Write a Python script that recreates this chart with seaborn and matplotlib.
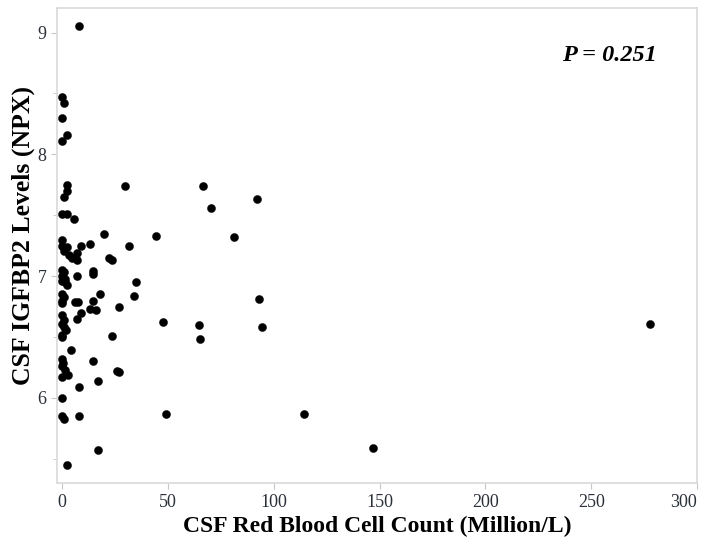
import matplotlib
matplotlib.use("Agg")
import matplotlib.pyplot as plt
import seaborn as sns
import pandas as pd
from matplotlib.ticker import MultipleLocator

rbc = [8.0, 0.1, 1.1, 0.1, 2.2, 0.1,
       2.2, 2.2, 1.1, 0.1, 2.2, 5.8, 29.8, 19.9, 44.6,
       0.1, 0.2, 1.5, 2.5, 0.8, 9.0, 13.0, 31.7,
       3.3, 4.6, 6.9, 6.9, 22.1, 23.7,
       0.1, 1.0, 0.1, 1.2, 0.1, 1.5, 2.5, 6.9, 14.7, 14.7, 34.8,
       0.1, 1.0, 0.1, 0.1, 17.9, 33.9, 6.1, 7.4, 14.7, 26.8,
       9.0, 13.2, 16.0, 6.9,
       0.1, 1.0, 0.1, 1.0, 2.0, 0.1, 0.1, 23.7, 47.7,
       4.1, 0.1, 0.5, 0.1, 1.2, 2.8, 0.1, 14.7, 26.2, 27.0,
       17.1, 8.1, 0.1, 0.1, 1.1, 8.1, 49.3, 17.1, 2.2,
       66.5, 70.5, 92.3, 81.4, 93.2, 64.5, 65.4, 94.3, 114.1, 146.8, 277.9]
igfbp2 = [9.05, 8.47, 8.42, 8.30, 8.16, 8.11,
          7.75, 7.70, 7.65, 7.51, 7.51, 7.47, 7.74, 7.35, 7.33,
          7.30, 7.25, 7.23, 7.24, 7.21, 7.25, 7.26, 7.25,
          7.17, 7.15, 7.19, 7.13, 7.15, 7.13,
          7.05, 7.03, 7.00, 6.98, 6.96, 6.95, 6.93, 7.00, 7.04, 7.02, 6.95,
          6.85, 6.83, 6.80, 6.78, 6.85, 6.84, 6.79, 6.79, 6.80, 6.75,
          6.70, 6.73, 6.72, 6.65,
          6.68, 6.64, 6.61, 6.58, 6.56, 6.52, 6.50, 6.51, 6.62,
          6.39, 6.32, 6.29, 6.26, 6.23, 6.19, 6.17, 6.30, 6.22, 6.21,
          6.14, 6.09, 6.00, 5.85, 5.83, 5.85, 5.87, 5.57, 5.45,
          7.74, 7.56, 7.63, 7.32, 6.81, 6.60, 6.48, 6.58, 5.87, 5.59, 6.61]

x_ticks = [0, 50, 100, 150, 200, 250, 300]
y_ticks = [6, 7, 8, 9]
p_text = "P = 0.251"
x_label = "CSF Red Blood Cell Count (Million/L)"
y_label = "CSF IGFBP2 Levels (NPX)"

df = pd.DataFrame({"rbc": rbc, "igfbp2": igfbp2})

sns.set_style("white")
plt.rcParams["font.family"] = ["Liberation Serif", "DejaVu Serif"]

fig = plt.figure(figsize=(7.03, 5.46), dpi=100)
ax = fig.add_axes([0.0807, 0.115, 0.911, 0.870])
sns.scatterplot(data=df, x="rbc", y="igfbp2", ax=ax, color="black",
                s=34, edgecolor="black", linewidth=0.3, legend=False)

ax.set_xlim(-2.5, 300)
ax.set_ylim(5.30, 9.20)
ax.set_xticks(x_ticks, labels=[str(t) for t in x_ticks])
ax.set_yticks(y_ticks, labels=[str(t) for t in y_ticks])
ax.get_xticklabels()[-1].set_horizontalalignment("right")
ax.yaxis.set_minor_locator(MultipleLocator(0.5))
ax.tick_params(axis="both", which="major", direction="out", length=4,
               color="#c8c8c8", labelsize=13, labelcolor="#2a2f38", left=True, bottom=True)
ax.tick_params(axis="y", which="minor", direction="out", length=3, color="#c8c8c8", left=True)
for sp in ax.spines.values():
    sp.set_color("#d9d9d9")
    sp.set_linewidth(1.2)

ax.set_xlabel(x_label, fontsize=17, fontweight="bold", color="black", labelpad=4)
ax.set_ylabel(y_label, fontsize=18.5, fontweight="bold", color="black")
ax.yaxis.set_label_coords(-0.034, 0.522)
ax.text(0.9375, 0.901, p_text, transform=ax.transAxes, ha="right", va="center",
        fontsize=17.5, fontweight="bold", fontstyle="italic", color="black")

fig.savefig("out.png", dpi=100)
